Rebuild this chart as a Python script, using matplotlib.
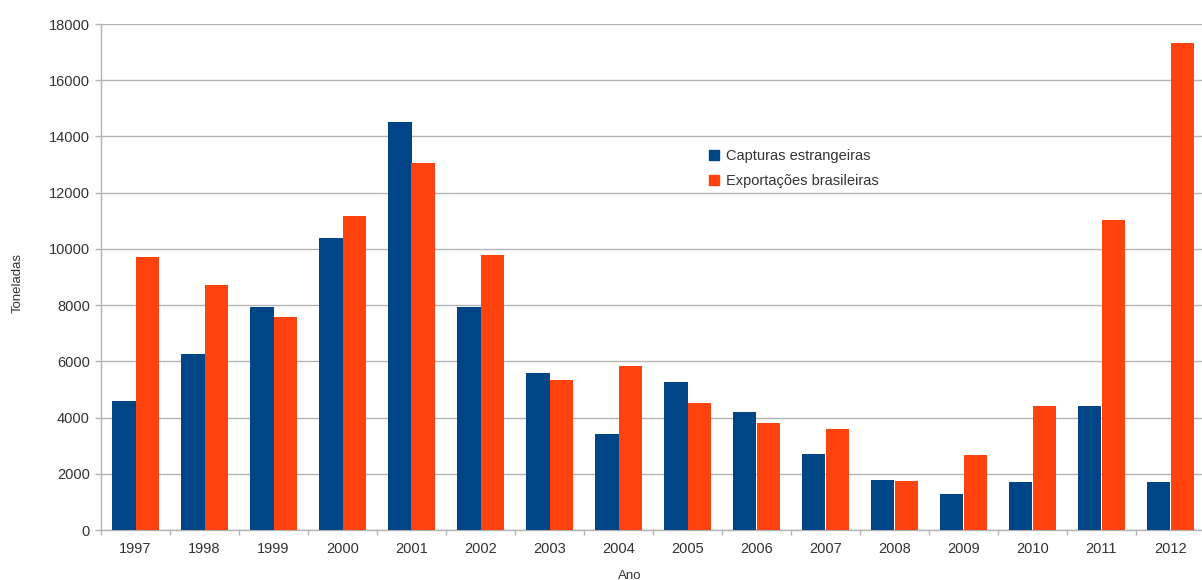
import numpy as np
import matplotlib
matplotlib.use("Agg")
import matplotlib.pyplot as plt
from matplotlib.patches import Patch

plt.rcParams['font.family'] = ['Liberation Sans', 'DejaVu Sans']

# Toneladas por ano
anos = ['1997', '1998', '1999', '2000', '2001', '2002', '2003', '2004',
        '2005', '2006', '2007', '2008', '2009', '2010', '2011', '2012']
capturas = [4600, 6270, 7950, 10400, 14530, 7950, 5570, 3400,
            5250, 4190, 2720, 1780, 1290, 1700, 4420, 1700]
exportacoes = [9710, 8720, 7580, 11170, 13070, 9790, 5330, 5820,
               4510, 3820, 3580, 1730, 2670, 4420, 11020, 17310]

azul = '#004586'
laranja = '#ff420e'
cinza = '#b3b3b3'
texto = '#333333'

fig = plt.figure(figsize=(12.02, 5.8), dpi=100)
ax = fig.add_axes([101 / 1202, 50 / 580, 1104 / 1202, 506 / 580])

x = np.arange(len(anos))
w = 0.338
ax.bar(x - w / 2, capturas, w, color=azul, zorder=3)
ax.bar(x + w / 2, exportacoes, w, color=laranja, zorder=3)

ax.set_xlim(-0.5, len(anos) - 0.5)
ax.set_ylim(0, 18000)
ax.set_yticks(range(0, 18001, 2000))
ax.yaxis.grid(True, color=cinza, linewidth=1, zorder=0)

# ticks nas fronteiras entre categorias
ax.set_xticks(np.arange(-0.5, len(anos), 1))
ax.set_xticklabels([])
ax.set_xticks(x, minor=True)
ax.set_xticklabels(anos, minor=True)
ax.tick_params(axis='x', which='major', length=3.8, color=cinza, width=1)
ax.tick_params(axis='x', which='minor', length=0, pad=8.5,
               labelsize=10.5, labelcolor=texto)
ax.tick_params(axis='y', length=4.5, color=cinza, width=1, pad=3.5,
               labelsize=10.5, labelcolor=texto)

for s in ['top', 'right']:
    ax.spines[s].set_visible(False)
for s in ['left', 'bottom']:
    ax.spines[s].set_color(cinza)
    ax.spines[s].set_linewidth(1)

ax.set_ylabel('Toneladas', fontsize=9.5, color=texto)
ax.yaxis.set_label_coords(-77 / 1104, 0.488)
ax.set_xlabel('Ano', fontsize=9.5, color=texto)
ax.xaxis.set_label_coords((630 - 101) / 1104, -40 / 506)

handles = [Patch(color=azul), Patch(color=laranja)]
ax.legend(handles, ['Capturas estrangeiras', 'Exportações brasileiras'],
          loc='upper left', bbox_to_anchor=(696 / 1202, 1 - 136 / 580),
          bbox_transform=fig.transFigure, frameon=False, fontsize=10.5,
          handlelength=0.7, handleheight=0.7, handletextpad=0.45,
          labelspacing=0.75, labelcolor=texto)

fig.savefig('out.png', dpi=100)
